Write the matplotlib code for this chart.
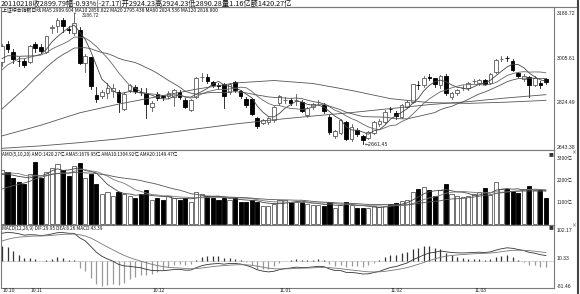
import numpy as np
import pandas as pd
import matplotlib
matplotlib.use("Agg")
import matplotlib.pyplot as plt
from matplotlib.patches import Rectangle
from matplotlib.lines import Line2D

CJK = ['Noto Sans CJK SC', 'Noto Sans CJK JP', 'Noto Sans CJK TC', 'Noto Sans CJK KR', 'DejaVu Sans']
plt.rcParams['font.family'] = CJK

# ---------------- data ----------------
month_labels = ["10.10", "10.11", "10.12", "11.01", "11.02", "11.03"]
month_start_idx = [0, 5, 27, 50, 70, 85]

opens = np.array([
    2990, 3062, 3030, 2995, 2993,
    2990, 3062, 3048, 3030, 3128, 3135, 3158, 3122, 3108, 3120, 2985, 3008, 2855, 2853, 2866, 2873, 2870, 2800, 2877, 2890, 2870, 2866,
    2810, 2860, 2852, 2853, 2850, 2870, 2838, 2798, 2850, 2928, 2930, 2909, 2895, 2902, 2869, 2909, 2873, 2842, 2840, 2764, 2744, 2748, 2757,
    2825, 2835, 2838, 2836, 2830, 2778, 2808, 2828, 2818, 2770, 2692, 2705, 2748, 2680, 2716, 2690, 2684, 2705, 2738, 2750,
    2800, 2785, 2770, 2810, 2829, 2898, 2895, 2930, 2924.23, 2895, 2935, 2850, 2866, 2884, 2885,
    2912, 2906, 2917, 2905, 2948, 3002, 3006, 2995, 2945, 2922, 2930, 2897, 2905, 2921])
highs = np.array([
    3062, 3075, 3040, 3010, 3002,
    3058, 3070, 3060, 3096, 3140, 3168, 3165, 3135, 3186.72, 3130, 3020, 3010, 2889, 2875, 2905, 2900, 2875, 2870, 2900, 2895, 2885, 2885,
    2832, 2868, 2858, 2872, 2882, 2878, 2845, 2842, 2928, 2945, 2940, 2915, 2905, 2905, 2905, 2915, 2878, 2848, 2845, 2770, 2762, 2770, 2812,
    2855, 2848, 2843, 2862, 2835, 2808, 2825, 2838, 2825, 2775, 2715, 2760, 2752, 2740, 2722, 2695, 2712, 2752, 2760, 2795,
    2810, 2792, 2822, 2835, 2902, 2915, 2932, 2940, 2924.23, 2937, 2941, 2870, 2882, 2895, 2908,
    2922, 2922, 2922, 2946, 3000, 3015, 3015, 3000, 2950, 2940, 2935, 2932, 2912, 2925])
lows = np.array([
    2972, 3030, 2985, 2975, 2970,
    2985, 3030, 3025, 3025, 3105, 3112, 3110, 3105, 3100, 2980, 2948, 2880, 2830, 2845, 2845, 2850, 2790, 2795, 2870, 2865, 2855, 2765,
    2792, 2838, 2835, 2845, 2812, 2842, 2805, 2792, 2845, 2915, 2905, 2890, 2882, 2805, 2862, 2870, 2845, 2810, 2775, 2725, 2738, 2740, 2750,
    2818, 2825, 2815, 2815, 2788, 2770, 2800, 2818, 2785, 2700, 2685, 2700, 2675, 2672, 2690, 2661.45, 2678, 2700, 2730, 2745,
    2788, 2760, 2765, 2805, 2825, 2880, 2888, 2918, 2890.28, 2885, 2855, 2840, 2858, 2875, 2878,
    2905, 2898, 2895, 2900, 2945, 2992, 2995, 2955, 2928, 2915, 2850, 2892, 2885, 2902])
closes = np.array([
    3052, 3040, 3002, 2993, 2979,
    3054, 3044, 3032, 3094, 3129, 3160, 3135, 3120, 3148, 2985, 3014, 2894, 2839, 2868, 2886, 2885, 2827, 2862, 2895, 2872, 2869, 2820,
    2825, 2845, 2847, 2865, 2877, 2850, 2810, 2838, 2925, 2930, 2913, 2897, 2893, 2853, 2901, 2877, 2853, 2817, 2780, 2733, 2756, 2764, 2808,
    2852, 2838, 2824, 2838, 2792, 2804, 2821, 2828, 2791, 2707, 2710, 2755, 2680, 2728, 2700, 2677, 2708, 2749, 2753, 2790,
    2799, 2774, 2818, 2827, 2899, 2897, 2927, 2927, 2899.79, 2932, 2863, 2866, 2878, 2886, 2905,
    2914, 2917, 2902, 2942, 2997, 3003, 3004, 2958, 2935, 2934, 2896, 2925, 2898, 2910])
amounts = np.array([
    2700, 2600, 2300, 2100, 2000,
    2500, 3100, 2300, 2600, 2800, 3000, 2700, 2400, 2900, 3050, 2300, 2500, 2000, 1500, 1600, 1400, 1600, 1500, 1400, 1300, 1500, 1700,
    1200, 1300, 1200, 1400, 1300, 1200, 1300, 1100, 1600, 1500, 1400, 1300, 1200, 1300, 1200, 1300, 1100, 1100, 1200, 1100, 900, 900, 1000,
    1200, 1200, 1100, 1100, 1100, 1000, 950, 950, 900, 1100, 800, 950, 1100, 950, 800, 800, 800, 900, 850, 900,
    1000, 1050, 1150, 1200, 1600, 1750, 1850, 1680, 1420, 1700, 2000, 1500, 1400, 1350, 1400,
    1500, 1600, 1800, 1450, 2100, 1750, 1750, 1650, 1550, 1750, 1900, 1700, 1700, 1300])

# closes / amounts of the days just before the visible window (for the moving averages)
prior_closes = np.array([2626, 2598, 2588, 2602, 2610, 2587, 2611, 2656, 2739, 2807,
                         2841, 2879, 2872, 2971, 2999, 2981, 3004, 3003, 2975])
prior_amounts = np.array([800, 750, 700, 700, 750, 700, 800, 1000, 1500, 2000,
                          2200, 2500, 2300, 2800, 3000, 2600, 2500, 2400, 2200])

ma_long_idx = [0, 7, 14, 21, 28, 35, 42, 49, 56, 63, 70, 77, 84, 91, 98]
ma60_vals = [2692, 2735, 2785, 2820, 2850, 2880, 2905, 2915, 2903, 2875, 2842, 2826, 2823, 2828, 2835]
ma120_vals = [2642, 2652, 2665, 2680, 2700, 2720, 2740, 2757, 2772, 2786, 2802, 2818, 2830, 2845, 2858]

# MACD state on the day before the window
EMA12_SEED, EMA26_SEED, DEA_SEED = 2890.0, 2805.0, 60.0

price_ticks = [3186.72, 3005.61, 2824.49, 2643.38]
vol_ticks = [3300, 2200, 1100]
vol_tick_labels = ["3300亿", "2200亿", "1100亿"]
macd_ticks = [102.17, 10.33, -81.46]

title_top = "20110218收2899.79幅-0.93%(-27.17)开2924.23高2924.23低2890.28量1.16亿额1420.27亿"
title_main = "上证综合指数日线 MA5 2909.604 MA10 2856.822 MA20 2795.438 MA60 2824.536 MA120 2818.800"
title_vol = "AMO(5,10,20) AMO:1420.27亿 AMA5:1679.95亿 AMA10:1304.92亿 AMA20:1149.47亿"
title_macd = "MACD(12,26,9) DIF:29.95 DEA:8.26 MACD:43.39"

# ---------------- derived series ----------------
n = len(closes)
x = np.arange(n)
up = closes >= opens
call = pd.Series(np.r_[prior_closes, closes])
ma5 = call.rolling(5).mean().values[len(prior_closes):]
ma10 = call.rolling(10).mean().values[len(prior_closes):]
ma20 = call.rolling(20).mean().values[len(prior_closes):]
aall = pd.Series(np.r_[prior_amounts, amounts])
ama5 = aall.rolling(5).mean().values[len(prior_amounts):]
ama10 = aall.rolling(10).mean().values[len(prior_amounts):]
ama20 = aall.rolling(20).mean().values[len(prior_amounts):]

e12, e26, dea = EMA12_SEED, EMA26_SEED, DEA_SEED
difs, deas = [], []
for c in closes:
    e12 += (c - e12) * 2 / 13
    e26 += (c - e26) * 2 / 27
    d = e12 - e26
    dea += (d - dea) * 2 / 10
    difs.append(d)
    deas.append(dea)
difs = np.array(difs)
deas = np.array(deas)
hist = 2 * (difs - deas)

# ---------------- figure ----------------
W, H = 580, 294
fig = plt.figure(figsize=(W / 100, H / 100), dpi=100)
fig.patch.set_facecolor('white')


def box(x0, y0, x1, y1):
    return [x0 / W, 1 - y1 / H, (x1 - x0) / W, (y1 - y0) / H]


ax = fig.add_axes(box(1, 7, 554, 150))
axv = fig.add_axes(box(1, 150, 554, 225))
axm = fig.add_axes(box(1, 225, 554, 288))
for a in (ax, axv, axm):
    a.set_xlim(-0.18, 99.46)
    a.set_xticks([])
    a.set_yticks([])
    for s in a.spines.values():
        s.set_color('#7a7a7a')
        s.set_linewidth(0.8)

NUMF = ['Liberation Sans', 'DejaVu Sans']

# price panel
ax.set_ylim(2635.3, 3210.9)
for i in range(n):
    lo, hi = min(opens[i], closes[i]), max(opens[i], closes[i])
    ax.add_line(Line2D([i, i], [lows[i], highs[i]], color='#555' if up[i] else '#111', lw=0.6, zorder=2))
    ax.add_patch(Rectangle((i - 0.33, lo), 0.66, max(hi - lo, 0.8),
                           facecolor='white' if up[i] else 'black',
                           edgecolor='#5a5a5a' if up[i] else 'black', lw=0.6, zorder=3))
for s, c in ((ma5, '#444'), (ma10, '#666'), (ma20, '#555')):
    ax.plot(x, s, color=c, lw=0.6, zorder=4)
ax.plot(ma_long_idx, ma60_vals, color='#555', lw=0.6, zorder=4)
ax.plot(ma_long_idx, ma120_vals, color='#555', lw=0.6, zorder=4)

ih = int(np.argmax(highs))
il = int(np.argmin(lows))
ax.annotate(f"{highs[ih]:.2f}", xy=(ih, highs[ih]), xytext=(ih + 1.3, highs[ih] - 9),
            fontsize=3.4, va='center', ha='left', color='#222', family=NUMF,
            arrowprops=dict(arrowstyle='-', color='#444', lw=0.5))
ax.annotate(f"←{lows[il]:.2f}", xy=(il, lows[il]), xytext=(il + 0.4, lows[il] - 3),
            fontsize=3.4, va='center', ha='left', color='#222', family=['DejaVu Sans'])
ax.text(0.002, 0.99, title_main, transform=ax.transAxes, fontsize=3.55, va='top', ha='left', color='#111')

ytr = ax.get_yaxis_transform()
for v in price_ticks:
    ax.text(1.005, v, f"{v:.2f}", transform=ytr, fontsize=3.7, va='center', ha='left',
            color='#222', clip_on=False, family=NUMF)

# volume panel
axv.set_ylim(-50, 3700)
axv.bar(x, amounts, width=0.74,
        color=['white' if u else 'black' for u in up],
        edgecolor=['#5a5a5a' if u else 'black' for u in up], linewidth=0.6, zorder=2)
for s, c in ((ama5, '#444'), (ama10, '#777'), (ama20, '#555')):
    axv.plot(x, s, color=c, lw=0.6, zorder=3)
axv.text(0.002, 0.985, title_vol, transform=axv.transAxes, fontsize=3.35, va='top', ha='left', color='#111')
ytr = axv.get_yaxis_transform()
for v, lab in zip(vol_ticks, vol_tick_labels):
    axv.text(1.005, v, lab, transform=ytr, fontsize=3.6, va='center', ha='left', color='#222', clip_on=False)

# MACD panel
axm.set_ylim(-86.5, 118.6)
axm.axhline(0, color='#888', lw=0.5, ls=(0, (1, 1)), zorder=1)
axm.vlines(x, 0, hist, colors=['#333' if h >= 0 else '#999' for h in hist], lw=0.9, zorder=2)
axm.plot(x, difs, color='#333', lw=0.6, zorder=3)
axm.plot(x, deas, color='#777', lw=0.6, zorder=3)
axm.text(0.002, 0.985, title_macd, transform=axm.transAxes, fontsize=3.4, va='top', ha='left', color='#111')
ytr = axm.get_yaxis_transform()
for v in macd_ticks:
    axm.text(1.005, v, f"{v:.2f}", transform=ytr, fontsize=3.7, va='center', ha='left',
             color='#222', clip_on=False, family=NUMF)

# date labels under the MACD panel
for idx, lab in zip(month_start_idx, month_labels):
    xp = 2 + 5.55 * idx
    fig.text((xp + 0.5) / W, 0.6 / H, lab, fontsize=3.5, va='bottom', ha='left',
             color='#222', family=NUMF)

# frame decorations
fig.text(1 / W, 1 - 3.4 / H, title_top, fontsize=5.2, va='center', ha='left', color='#111')
fig.add_artist(Line2D([0, 577 / W], [1 - 7 / H, 1 - 7 / H], color='#7a7a7a', lw=0.8))
fig.add_artist(Line2D([577.5 / W, 577.5 / W], [0, 1], color='#444', lw=1.5))
for yy in (155, 228):
    fig.text(551 / W, 1 - yy / H, "■", fontsize=3.5, va='center', ha='center', color='#333')
    fig.text(574 / W, 1 - (yy - 2) / H, "×", fontsize=3.5, va='center', ha='center', color='#333')

fig.savefig("out.png", dpi=100, facecolor='white')
